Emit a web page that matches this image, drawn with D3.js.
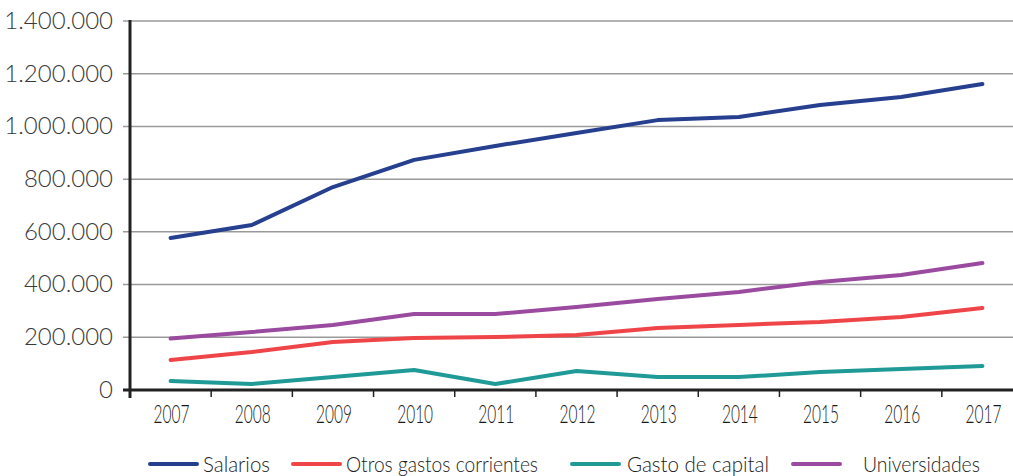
<!DOCTYPE html>
<html>
<head>
<meta charset="utf-8">
<script src="https://cdn.jsdelivr.net/npm/d3@7"></script>
<style>
  body { margin: 0; background: #fff; }
  svg { display: block; }
</style>
</head>
<body>
<svg></svg>
<script>
// Data: años y series
const years = ["2007", "2008", "2009", "2010", "2011", "2012", "2013", "2014", "2015", "2016", "2017"];
const salarios = [577000, 626000, 770000, 873000, 926000, 975000, 1024000, 1036000, 1081000, 1112000, 1161000];
const otrosGastos = [114000, 144000, 182000, 197000, 201000, 209000, 235000, 247000, 258000, 277000, 311000];
const gastoCapital = [34000, 23000, 49000, 76000, 23000, 72000, 49000, 49000, 68000, 80000, 91000];
const universidades = [195000, 220000, 247000, 288000, 288000, 315000, 345000, 372000, 410000, 436000, 482000];
const yTicks = [0, 200000, 400000, 600000, 800000, 1000000, 1200000, 1400000];
const seriesNames = ["Salarios", "Otros gastos corrientes", "Gasto de capital", "Universidades"];

const series = [
    { name: seriesNames[0], values: salarios, color: "#263f8e" },
    { name: seriesNames[1], values: otrosGastos, color: "#ef4548" },
    { name: seriesNames[2], values: gastoCapital, color: "#1f9a97" },
    { name: seriesNames[3], values: universidades, color: "#9a4b9f" }
];

const W = 1013, H = 476;
const svg = d3.select("svg").attr("width", W).attr("height", H);

const x = d3.scaleBand().domain(years).range([130, 1023]);
const y = d3.scaleLinear().domain([0, 1400000]).range([390, 21]);

// formato español: 1.400.000
const fmt = v => d3.format(",")(v).replace(/,/g, ".");

// Gridlines
svg.append("g")
    .selectAll("line")
    .data(yTicks.filter(d => d > 0))
    .enter().append("line")
    .attr("x1", 123).attr("x2", W)
    .attr("y1", d => y(d)).attr("y2", d => y(d))
    .attr("stroke", "#9a9a9a").attr("stroke-width", 1.5);

// Y labels
svg.append("g")
    .selectAll("text")
    .data(yTicks)
    .enter().append("text")
    .attr("x", 113)
    .attr("y", d => y(d))
    .attr("dy", "0.33em")
    .attr("text-anchor", "end")
    .attr("font-family", "Lato, 'Open Sans', sans-serif")
    .attr("font-weight", 300)
    .attr("font-size", 24)
    .attr("fill", "#3a3a3a")
    .text(d => fmt(d));

// X axis: ticks at band boundaries
const bounds = years.slice(1).map(d => x(d));
svg.append("g")
    .selectAll("line")
    .data(bounds)
    .enter().append("line")
    .attr("x1", d => d).attr("x2", d => d)
    .attr("y1", 390).attr("y2", 397)
    .attr("stroke", "#222").attr("stroke-width", 1.5);

svg.append("line")
    .attr("x1", 123).attr("x2", W)
    .attr("y1", y(0)).attr("y2", y(0))
    .attr("stroke", "#222").attr("stroke-width", 3);

svg.append("line")
    .attr("x1", 130).attr("x2", 130)
    .attr("y1", 20).attr("y2", 398)
    .attr("stroke", "#222").attr("stroke-width", 3);

// X labels (condensed)
svg.append("g")
    .selectAll("text")
    .data(years)
    .enter().append("text")
    .attr("transform", d => `translate(${x(d) + x.bandwidth() / 2 + 1},423) scale(0.62,1)`)
    .attr("text-anchor", "middle")
    .attr("font-family", "Lato, sans-serif")
    .attr("font-weight", 300)
    .attr("font-size", 25)
    .attr("fill", "#1a1a1a")
    .text(d => d);

// Lines
const line = d3.line()
    .x((d, i) => x(years[i]) + x.bandwidth() / 2)
    .y(d => y(d));

svg.append("g")
    .selectAll("path")
    .data(series)
    .enter().append("path")
    .attr("d", d => line(d.values))
    .attr("fill", "none")
    .attr("stroke", d => d.color)
    .attr("stroke-width", 4)
    .attr("stroke-linecap", "round")
    .attr("stroke-linejoin", "round");

// Legend
const legendX = [150, 293, 572, 793];
const legendTextGap = [6, 6, 8, 23];
const legendTextW = [67, 192, 142, 117];
const legend = svg.append("g");
series.forEach((s, i) => {
    legend.append("line")
        .attr("x1", legendX[i]).attr("x2", legendX[i] + 47)
        .attr("y1", 464).attr("y2", 464)
        .attr("stroke", s.color).attr("stroke-width", 4)
        .attr("stroke-linecap", "round");
    legend.append("text")
        .attr("x", legendX[i] + 47 + legendTextGap[i])
        .attr("y", 472)
        .attr("font-family", "Lato, sans-serif")
        .attr("font-weight", 300)
        .attr("font-size", 21)
        .attr("textLength", legendTextW[i])
        .attr("lengthAdjust", "spacingAndGlyphs")
        .attr("fill", "#222")
        .text(s.name);
});
</script>
</body>
</html>
